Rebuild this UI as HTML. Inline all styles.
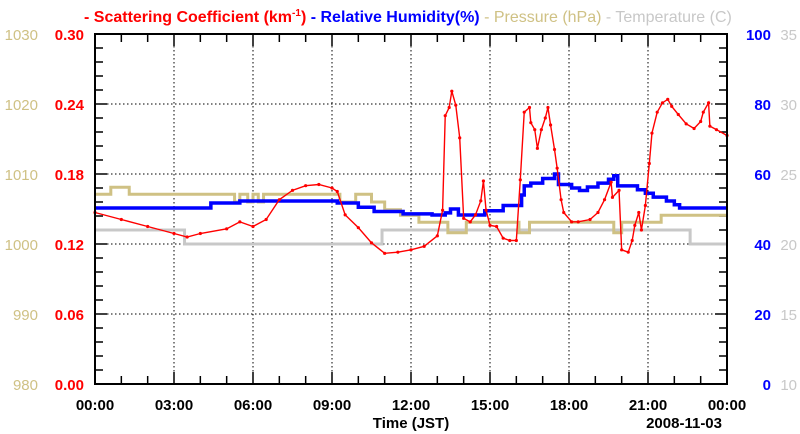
<!DOCTYPE html>
<html><head><meta charset="utf-8"><style>
body{margin:0;background:#fff;}
svg{display:block;font-family:"Liberation Sans",Arial,sans-serif;}
</style></head><body>
<svg id="chart" width="800" height="434" viewBox="0 0 800 434"></svg>
<script>
const xTickLabels=["00:00","03:00","06:00","09:00","12:00","15:00","18:00","21:00","00:00"];
const scatTicks=["0.00","0.06","0.12","0.18","0.24","0.30"];
const presTicks=["980","990","1000","1010","1020","1030"];
const rhTicks=["0","20","40","60","80","100"];
const tempTicks=["10","15","20","25","30","35"];
const scatHours=[0,1,2,3,3.5,4,5,5.5,6,6.5,7,7.5,8,8.5,9,9.2,9.5,10,10.5,11,11.5,12,12.5,13,13.2,13.3,13.45,13.55,13.7,13.85,14,14.25,14.45,14.65,14.75,14.85,15,15.25,15.5,15.75,16,16.15,16.3,16.5,16.55,16.7,16.8,16.95,17.1,17.2,17.3,17.45,17.55,17.7,17.8,18.1,18.35,18.8,19.1,19.35,19.6,19.65,19.9,20,20.25,20.4,20.5,20.65,20.75,20.9,21.05,21.15,21.35,21.55,21.75,21.9,22.15,22.45,22.75,23,23.1,23.3,23.35,23.6,24];
const scatValues=[.147,.141,.135,.129,.126,.129,.133,.139,.135,.141,.158,.166,.170,.171,.168,.165,.145,.134,.121,.112,.113,.115,.118,.127,.149,.230,.237,.251,.239,.211,.142,.139,.145,.157,.174,.149,.136,.135,.125,.123,.123,.175,.233,.237,.224,.218,.202,.218,.228,.237,.222,.201,.185,.158,.147,.139,.139,.141,.147,.158,.173,.160,.166,.115,.113,.123,.136,.147,.132,.153,.189,.215,.233,.241,.244,.238,.231,.223,.219,.225,.233,.241,.221,.218,.213];
const rhHours=[0,4.4,5.5,9.2,10.0,10.6,11.7,12.8,13.3,13.5,13.8,14.8,15.5,16.2,16.3,16.55,17.0,17.45,17.6,18.1,18.4,18.7,19.1,19.5,19.7,19.85,20.6,20.9,21.2,21.7,22.0,22.2,22.7,24];
const rhValues=[50.3,51.7,52.3,51.7,50.5,49.3,48.6,48.3,48.9,50.0,48.3,49.5,51.0,54.0,56.6,57.4,58.7,60.0,57.0,56.0,55.3,56.3,57.4,58.5,59.5,56.6,55.5,54.5,53.4,52.3,51.2,50.3,50.3,50.3];
const presHours=[0,0.6,1.3,5.3,5.5,5.8,6.0,6.2,6.4,9.3,9.9,10.5,11.0,11.6,12.3,13.0,13.4,14.1,14.4,15.7,16.1,16.5,16.9,19.7,20.0,21.5,24];
const presValues=[1007.1,1008.1,1007.1,1006.0,1007.1,1006.0,1007.1,1006.0,1007.1,1006.0,1007.1,1006.0,1004.9,1004.1,1003.1,1003.1,1001.6,1003.1,1003.1,1003.1,1001.6,1003.1,1003.1,1001.6,1003.1,1004.1,1004.1];
const tempHours=[0,3.4,10.9,22.6,24];
const tempValues=[21.0,20.0,21.0,20.0,20.0];

const NS="http://www.w3.org/2000/svg";
const svg=document.getElementById('chart');
const L=95,R=727,T=34,B=384;
const xs=h=>L+(R-L)*h/24;
const yScat=v=>B-(B-T)*v/0.30;
const yPres=v=>B-(B-T)*(v-980)/50;
const yRh=v=>B-(B-T)*v/100;
const yTemp=v=>B-(B-T)*(v-10)/25;
function el(tag,attrs,parent){const e=document.createElementNS(NS,tag);for(const k in attrs)e.setAttribute(k,attrs[k]);(parent||svg).appendChild(e);return e;}
function txt(s,x,y,fill,anchor,size,weight){const t=el('text',{x:x,y:y,fill:fill,'text-anchor':anchor,'font-size':size,'font-weight':weight||'bold'});t.textContent=s;return t;}

const grid=el('g',{});


for(let i=1;i<8;i++){el('line',{x1:xs(i*3),x2:xs(i*3),y1:T,y2:B,stroke:'#000','stroke-width':1,'stroke-dasharray':'1.5,2.5'},grid);}
for(let i=1;i<5;i++){const y=B-(B-T)*i/5;el('line',{x1:L,x2:R,y1:y,y2:y,stroke:'#000','stroke-width':1,'stroke-dasharray':'1.5,2.5'},grid);}

const ticks=el('g',{stroke:'#000'});


for(let i=0;i<=25;i++){const y=B-(B-T)*i/25;const len=i%5==0?12:8;
el('line',{x1:L,x2:L+len,y1:y,y2:y,'stroke-width':1.5},ticks);
el('line',{x1:R-len,x2:R,y1:y,y2:y,'stroke-width':1.5},ticks);}
for(let i=0;i<=24;i++){const x=xs(i);const len=i%3==0?12:8;
el('line',{x1:x,x2:x,y1:B-len,y2:B,'stroke-width':1.5},ticks);
el('line',{x1:x,x2:x,y1:T,y2:T+len,'stroke-width':1.5},ticks);}

function stepPath(hs,vs,yf){let d='M'+xs(hs[0])+','+yf(vs[0]);for(let i=1;i<hs.length;i++){d+=' H'+xs(hs[i])+' V'+yf(vs[i]);}return d;}

const temp=el('path',{d:stepPath(tempHours,tempValues,yTemp),fill:'none',stroke:'#c8c8c8','stroke-width':3});


const pres=el('path',{d:stepPath(presHours,presValues,yPres),fill:'none',stroke:'#cfc184','stroke-width':3});


const rh=el('path',{d:stepPath(rhHours,rhValues,yRh),fill:'none',stroke:'#0000ff','stroke-width':3.5});



let d='';scatHours.forEach((h,i)=>{d+=(i?' L':'M')+xs(h)+','+yScat(scatValues[i]);});
const scat=el('path',{d:d,fill:'none',stroke:'#ff0000','stroke-width':1.4});


scatHours.forEach((h,i)=>{const c=el('circle',{cx:xs(h),cy:yScat(scatValues[i]),r:1.6,fill:'#ff0000'});

});

const frame=el('rect',{x:L,y:T,width:R-L,height:B-T,fill:'none',stroke:'#000','stroke-width':2});



for(let i=0;i<6;i++){const y=B-(B-T)*i/5+6;
let t=txt(presTicks[i],38,y,'#cfc184','end',15,'normal');
t=txt(scatTicks[i],84,y,'#ff0000','end',15);
t=txt(rhTicks[i],771,y,'#0000ff','end',15);
t=txt(tempTicks[i],797,y,'#c8c8c8','end',15,'normal');}
xTickLabels.forEach((s,i)=>{const t=txt(s,xs(i*3),410,'#000','middle',15);});
let t=txt('Time (JST)',411,428,'#000','middle',15);
t=txt('2008-11-03',722,428,'#000','end',15);

const lg=el('text',{x:84,y:22,'font-size':16,'font-weight':'bold'});


lg.innerHTML='<tspan fill="#ff0000">- Scattering Coefficient (km<tspan font-size="10" dy="-6">-1</tspan><tspan dy="6">) </tspan></tspan><tspan fill="#0000ff">- Relative Humidity(%) </tspan><tspan fill="#cfc184" font-weight="normal">- Pressure (hPa) </tspan><tspan fill="#c8c8c8" font-weight="normal">- Temperature (C)</tspan>';
</script>
</body></html>
